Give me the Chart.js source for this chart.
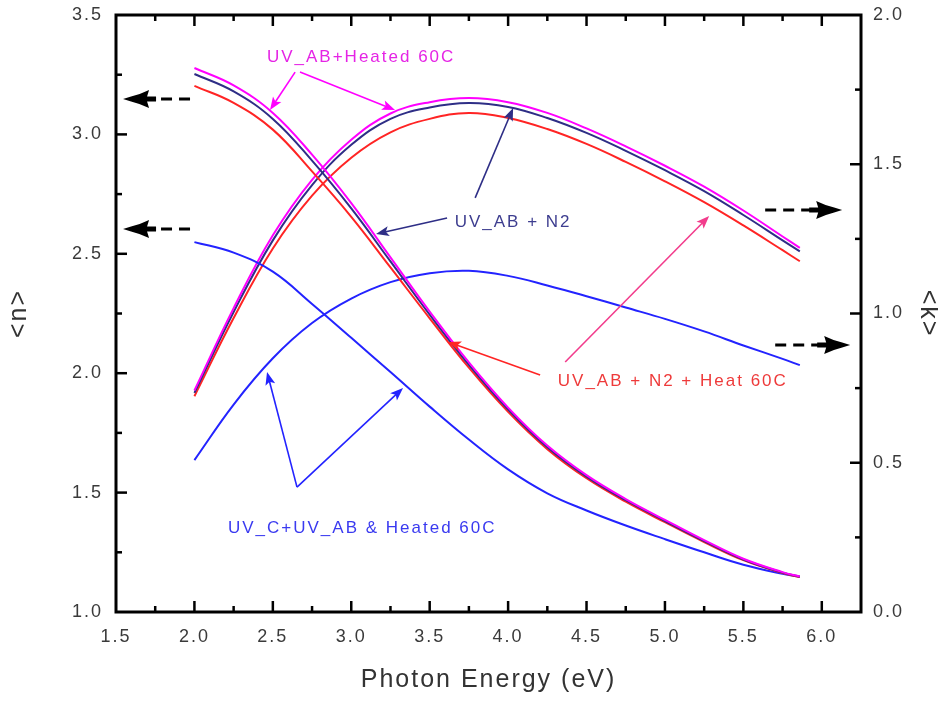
<!DOCTYPE html>
<html><head><meta charset="utf-8">
<script src="https://cdn.jsdelivr.net/npm/chart.js@4.4.1/dist/chart.umd.min.js"></script>
<style>html,body{margin:0;padding:0;background:#fff;}#wrap{width:938px;height:705px;}</style>
</head><body><div id="wrap"><canvas id="c" width="938" height="705"></canvas></div>
<script>
// ---- data (photon energy in eV) ----
const energy   = [2.0, 2.25, 2.5, 2.75, 3.0, 3.25, 3.5, 3.75, 4.0, 4.25, 4.5, 4.75, 5.0, 5.25, 5.5, 5.75, 5.86];
// refractive index <n> (left axis)
const nHeated  = [3.278, 3.205, 3.09, 2.915, 2.712, 2.485, 2.258, 2.045, 1.856, 1.697, 1.573, 1.473, 1.386, 1.301, 1.223, 1.167, 1.149];
const nN2      = [3.253, 3.18, 3.065, 2.89, 2.69, 2.468, 2.245, 2.035, 1.848, 1.69, 1.567, 1.468, 1.381, 1.297, 1.22, 1.165, 1.148];
const nN2Heat  = [3.203, 3.132, 3.02, 2.845, 2.655, 2.443, 2.23, 2.023, 1.838, 1.682, 1.56, 1.462, 1.376, 1.293, 1.217, 1.163, 1.146];
const nUVC     = [2.549, 2.505, 2.425, 2.29, 2.148, 2.005, 1.86, 1.722, 1.597, 1.497, 1.425, 1.362, 1.305, 1.25, 1.198, 1.16, 1.148];
// extinction coefficient <k> (right axis)
const kHeated  = [0.742, 1.018, 1.262, 1.448, 1.582, 1.67, 1.708, 1.722, 1.708, 1.672, 1.62, 1.56, 1.495, 1.425, 1.345, 1.258, 1.22];
const kN2      = [0.734, 1.005, 1.245, 1.43, 1.565, 1.652, 1.69, 1.705, 1.692, 1.655, 1.605, 1.545, 1.48, 1.41, 1.33, 1.245, 1.208];
const kN2Heat  = [0.723, 0.985, 1.218, 1.395, 1.522, 1.607, 1.652, 1.672, 1.655, 1.618, 1.568, 1.508, 1.443, 1.373, 1.295, 1.212, 1.175];
const kUVC     = [0.509, 0.695, 0.85, 0.968, 1.05, 1.105, 1.135, 1.143, 1.126, 1.094, 1.058, 1.02, 0.982, 0.94, 0.893, 0.848, 0.827];
// tick labels
const xTicks = [1.5, 2.0, 2.5, 3.0, 3.5, 4.0, 4.5, 5.0, 5.5, 6.0];
const nTicks = [1.0, 1.5, 2.0, 2.5, 3.0, 3.5];
const kTicks = [0.0, 0.5, 1.0, 1.5, 2.0];
// labels of annotations
const labelHeated = 'UV_AB+Heated 60C';
const labelN2 = 'UV_AB + N2';
const labelN2Heat = 'UV_AB + N2 + Heat 60C';
const labelUVC = 'UV_C+UV_AB & Heated 60C';

const FONT = "'Liberation Sans', Arial, sans-serif";
const C = {mag:'#ff00ff', navy:'#2e2e86', red:'#ff2424', blue:'#2323ff', pink:'#f23c8c'};

// annotation placement, in (eV, <n>) units
const notes = [
  {text: labelHeated, x: 3.063, y: 3.324, color: '#e524e5'},
  {text: labelN2,     x: 4.032, y: 2.633, color: '#3d3d8f'},
  {text: labelN2Heat, x: 5.05,  y: 1.967, color: '#ee3a3a'},
  {text: labelUVC,    x: 3.07,  y: 1.35,  color: '#3a3af0'}
];
const arrows = [
  {a:[2.642,3.261], b:[2.482,3.102], color:C.mag},
  {a:[2.673,3.261], b:[3.279,3.102], color:C.mag},
  {a:[3.611,2.650], b:[3.158,2.583], color:C.navy},
  {a:[3.790,2.734], b:[4.032,3.111], color:C.navy},
  {a:[4.204,1.992], b:[3.617,2.131], color:C.red},
  {a:[4.364,2.047], b:[5.282,2.658], color:C.pink},
  {a:[2.654,1.523], b:[2.463,2.005], color:C.blue},
  {a:[2.654,1.523], b:[3.330,1.938], color:C.blue},
  {a:[1.972,3.148], b:[1.545,3.148], color:'#000', big:true},
  {a:[1.972,2.604], b:[1.545,2.604], color:'#000', big:true},
  {a:[5.639,2.683], b:[6.130,2.683], color:'#000', big:true},
  {a:[5.703,2.118], b:[6.181,2.118], color:'#000', big:true}
];

function setLS(ctx, v){ try { ctx.letterSpacing = v; } catch(e){} }

function mk(arr, color, axis){
  return {data: energy.map((e,i)=>({x:e, y:arr[i]})), borderColor: color, backgroundColor: color,
    borderWidth: 2, pointRadius: 0, fill: false, tension: 0.4, yAxisID: axis};
}

const spacing = {
  id: 'spacing',
  beforeUpdate(ch){ setLS(ch.ctx,'2px'); },
  beforeLayout(ch){ setLS(ch.ctx,'2px'); },
  beforeDraw(ch){ setLS(ch.ctx,'2px'); }
};

const frame = {
  id: 'frame',
  afterDatasetsDraw(ch){
    const ctx = ch.ctx, a = ch.chartArea, sx = ch.scales.x, sy = ch.scales.y, sk = ch.scales.y2;
    ctx.save();
    ctx.strokeStyle = '#000'; ctx.lineWidth = 2.5; ctx.lineCap = 'butt';
    const line = (x1,y1,x2,y2)=>{ctx.beginPath();ctx.moveTo(x1,y1);ctx.lineTo(x2,y2);ctx.stroke();};
    for (let v = 1.5; v < 6.26; v += 0.25){
      const p = sx.getPixelForValue(v); const L = (Math.abs(v*2-Math.round(v*2))<1e-6)?11:6;
      if (p <= a.left+1 || p >= a.right-1) continue;
      line(p, a.bottom, p, a.bottom-L); line(p, a.top, p, a.top+L);
    }
    for (let v = 1.0; v < 3.51; v += 0.25){
      const p = sy.getPixelForValue(v); const L = (Math.abs(v*2-Math.round(v*2))<1e-6)?11:6;
      if (p <= a.top+1 || p >= a.bottom-1) continue;
      line(a.left, p, a.left+L, p);
    }
    for (let v = 0; v < 2.01; v += 0.25){
      const p = sk.getPixelForValue(v); const L = (Math.abs(v*2-Math.round(v*2))<1e-6)?11:6;
      if (p <= a.top+1 || p >= a.bottom-1) continue;
      line(a.right, p, a.right-L, p);
    }
    ctx.lineWidth = 3;
    ctx.strokeRect(a.left, a.top, a.right-a.left, a.bottom-a.top);
    ctx.restore();
  },
  afterDraw(ch){
    const ctx = ch.ctx, sx = ch.scales.x, sy = ch.scales.y;
    const P = (pt)=>[sx.getPixelForValue(pt[0]), sy.getPixelForValue(pt[1])];
    ctx.save();
    arrows.forEach(ar=>{
      const [x1,y1] = P(ar.a), [x2,y2] = P(ar.b);
      const ang = Math.atan2(y2-y1, x2-x1);
      ctx.save();
      ctx.translate(x2,y2); ctx.rotate(ang);
      const len = Math.hypot(x2-x1,y2-y1);
      ctx.strokeStyle = ar.color; ctx.fillStyle = ar.color;
      if (ar.big){
        ctx.lineWidth = 3; ctx.setLineDash([11,7]);
        ctx.beginPath(); ctx.moveTo(-len,0); ctx.lineTo(-30,0); ctx.stroke();
        ctx.setLineDash([]);
        ctx.beginPath();
        ctx.moveTo(0,0);
        ctx.lineTo(-8,-2.5);
        ctx.quadraticCurveTo(-18,-5,-26,-9);
        ctx.lineTo(-24,-2.5); ctx.lineTo(-33,-2.5); ctx.lineTo(-33,2.5); ctx.lineTo(-24,2.5);
        ctx.lineTo(-26,9);
        ctx.quadraticCurveTo(-18,5,-8,2.5);
        ctx.closePath(); ctx.fill();
      } else {
        ctx.lineWidth = 1.6;
        ctx.beginPath(); ctx.moveTo(-len,0); ctx.lineTo(-9,0); ctx.stroke();
        ctx.beginPath(); ctx.moveTo(0,0); ctx.lineTo(-13,-5); ctx.lineTo(-10,0); ctx.lineTo(-13,5); ctx.closePath(); ctx.fill();
      }
      ctx.restore();
    });
    setLS(ctx,'2px');
    ctx.font = '17px ' + FONT; ctx.textAlign = 'center'; ctx.textBaseline = 'middle';
    notes.forEach(n=>{ const [x,y] = P([n.x,n.y]); ctx.fillStyle = n.color; ctx.fillText(n.text, x, y); });
    ctx.restore();
  }
};

function noPadV(s){ s.paddingTop = 0; s.paddingBottom = 0; }

new Chart(document.getElementById('c'), {
  type: 'line',
  data: { datasets: [
    mk(nHeated, C.mag, 'y'), mk(nN2, C.navy, 'y'), mk(nN2Heat, C.red, 'y'), mk(nUVC, C.blue, 'y'),
    mk(kHeated, C.mag, 'y2'), mk(kN2, C.navy, 'y2'), mk(kN2Heat, C.red, 'y2'), mk(kUVC, C.blue, 'y2')
  ]},
  options: {
    responsive: false, animation: false, devicePixelRatio: 1,
    layout: { padding: { top: 15, left: 0, right: 0, bottom: 0 } },
    plugins: { legend: {display:false}, tooltip: {enabled:false} },
    scales: {
      x: { type:'linear', position:'bottom', min:1.5, max:6.25,
        afterBuildTicks: s => { s.ticks = xTicks.map(v=>({value:v})); },
        afterFit: s => { s.height = 93; s.paddingLeft = 0; s.paddingRight = 0; },
        grid: {display:false, drawTicks:false}, border:{display:false},
        ticks: { padding: 14, color:'#3a3a3a', font:{family:FONT, size:18}, maxRotation:0, autoSkip:false, callback: v => Number(v).toFixed(1) },
        title: { display:true, text:'Photon Energy (eV)', color:'#333', font:{family:FONT, size:25}, padding:{top:0,bottom:10} }
      },
      y: { type:'linear', position:'left', min:1.0, max:3.5,
        afterBuildTicks: s => { s.ticks = nTicks.map(v=>({value:v})); },
        afterFit: s => { s.width = 116; noPadV(s); },
        grid: {display:false, drawTicks:false}, border:{display:false},
        ticks: { padding: 13, color:'#3a3a3a', font:{family:FONT, size:18}, autoSkip:false, callback: v => Number(v).toFixed(1) },
        title: { display:true, text:'<n>', color:'#333', font:{family:FONT, size:25}, padding:{top:4,bottom:0} }
      },
      y2: { type:'linear', position:'right', min:0, max:2.0,
        afterBuildTicks: s => { s.ticks = kTicks.map(v=>({value:v})); },
        afterFit: s => { s.width = 77; noPadV(s); },
        grid: {display:false, drawTicks:false}, border:{display:false},
        ticks: { padding: 12, color:'#3a3a3a', font:{family:FONT, size:18}, autoSkip:false, callback: v => Number(v).toFixed(1) },
        title: { display:true, text:'<k>', color:'#333', font:{family:FONT, size:25, lineHeight:0.8}, padding:{top:0,bottom:0} }
      }
    }
  },
  plugins: [spacing, frame]
});
</script></body></html>
